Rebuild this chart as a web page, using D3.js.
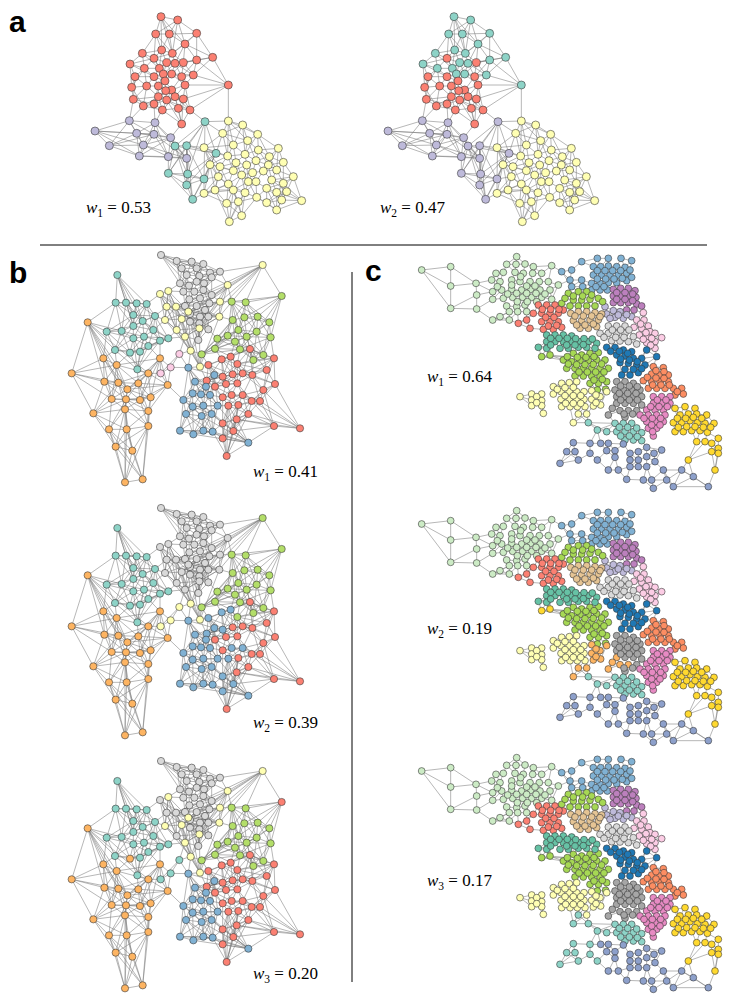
<!DOCTYPE html>
<html>
<head>
<meta charset="utf-8">
<script src="https://cdn.jsdelivr.net/npm/d3@7"></script>
<style>
  body { margin: 0; background: #fff; }
  text { font-family: "Liberation Serif", "DejaVu Serif", serif; }
  .letter { font-family: "Liberation Sans", Arial, sans-serif; font-weight: bold; font-size: 30px; }
</style>
</head>
<body>
<script>
// node layouts in reference pixels (x3), one colour code per panel
var aNodes = "483 50 RT|533 60 RT|467 102 RT|508 102 RT|590 100 RT|555 132 RT|485 150 RT|517 160 RT|427 160 RT|462 175 RR|590 180 RT|638 172 RT|390 192 RT|433 205 RT|478 205 RT|500 188 RT|525 190 RT|550 188 RR|405 230 RR|462 230 RR|490 222 RT|515 222 RT|545 230 RR|580 225 RT|440 258 RR|475 258 RR|495 243 RR|515 270 RR|555 255 RR|395 262 RR|497 272 RR|475 290 RR|500 300 RR|525 290 RR|550 297 RR|400 298 RR|430 318 RR|462 312 RR|487 330 RR|535 325 RR|570 330 RR|685 255 RT|545 372 RR|"
  + "285 393 UU|388 362 UU|465 368 UU|410 400 UU|462 403 UU|512 413 UU|328 437 UU|430 435 UU|418 468 UU|505 470 UU|560 475 UU|"
  + "615 365 TU|525 438 TU|560 437 TU|648 460 TU|505 520 TU|563 522 TU|612 537 TU|560 555 TU|578 598 TU|"
  + "685 363 YY|728 375 YY|668 400 YY|773 403 YY|700 435 YY|743 422 YY|612 443 YY|775 450 YY|835 445 YY|683 468 YY|735 463 YY|768 482 YY|808 470 YY|850 487 YY|630 494 YY|660 500 YY|708 488 YY|740 495 YY|805 495 YY|830 510 YY|880 530 YY|655 530 YY|700 512 YY|725 525 YY|758 518 YY|790 513 YY|815 540 YY|850 550 YY|685 552 YY|745 545 YY|768 545 YY|645 570 YY|700 570 YY|735 578 YY|770 592 YY|800 565 YY|830 577 YY|860 575 YY|612 580 YY|680 610 YY|715 605 YY|800 608 YY|845 600 YY|905 602 YY|830 630 YY|725 647 YY|688 665 YY"

var bNodes = "483 45 GGG|530 63 GGG|575 65 GGG|610 72 GGG|545 85 GGG|590 85 GGG|630 98 GGG|660 95 GGG|560 105 GGG|598 108 GGG|540 130 GGG|567 137 GGG|590 125 GGG|612 130 GGG|635 112 GGG|550 155 GGG|583 155 GGG|610 150 GGG|635 165 GGG|568 178 GGG|600 175 GGG|628 190 GGG|555 198 GGG|590 198 GGG|615 210 GGG|570 222 GGG|600 230 GGG|625 230 GGG|570 245 GGG|598 250 GGG|625 268 GGG|595 300 GGG|"
  + "788 75 YLY|683 135 YGY|480 162 YGG|505 153 YGY|500 200 YGG|528 200 YGG|660 185 YGY|495 240 YGY|545 237 YGY|565 215 YGY|658 230 YGY|530 270 YGG|598 265 YGY|555 290 YGY|572 332 YYY|600 380 YYY|"
  + "538 342 PYT|512 382 PYT|482 400 PYT|"
  + "845 168 LLR|695 185 LLL|737 187 LLL|698 240 LLL|733 232 LLL|773 230 LLL|808 247 LLL|715 270 LLL|683 287 LLL|740 290 LLL|770 275 LLL|812 292 LLL|652 296 LLL|705 305 LLL|645 326 LLL|605 343 LLL|790 345 LLL|760 360 LLL|720 328 LLL|"
  + "352 105 TTT|347 188 TTT|378 188 TTT|410 190 TTT|440 192 TTT|400 225 TTT|428 243 TTT|465 228 TTT|320 275 TTT|365 273 TTT|400 258 TTT|432 290 TTT|460 270 TTT|400 295 TTT|445 318 TTT|480 302 TTT|505 295 TTT|345 330 TTT|390 338 TTO|420 335 TTT|412 388 TTT|"
  + "263 247 OOO|310 355 OOO|350 375 OOO|215 400 OOO|313 425 OOO|355 428 OOO|382 448 OOO|415 430 OOO|445 400 OOO|480 355 OOO|503 435 OOO|335 477 OOO|378 478 OOO|420 480 OOO|452 472 OOO|280 520 OOO|375 508 OOO|445 513 OOO|327 568 OOO|380 568 OOO|445 558 OOO|347 620 OOO|397 632 OOO|375 727 OOO|428 718 OOO|"
  + "750 327 RRR|692 350 RBR|665 358 RBR|625 375 RBR|822 355 RRR|712 372 RLR|620 422 RBR|645 440 RRR|668 410 RBR|698 403 RRR|728 400 RRR|757 405 RRR|800 390 RRR|825 432 RRR|678 432 RRR|712 430 RRR|790 450 RRR|668 472 RRR|695 465 RBR|728 465 RBR|755 483 RRR|780 483 RRR|685 497 RBR|715 495 RRR|745 522 RRR|710 538 RRR|668 550 RBR|700 573 RBR|822 558 RRR|900 565 RRR|668 595 RBR|680 648 RRR|"
  + "565 383 BBB|643 405 BBB|585 425 BBB|618 440 BBB|578 460 BBB|603 463 BBB|630 465 BBB|550 480 BBB|578 500 BBB|610 497 BBB|653 497 BBB|558 522 BBB|605 528 BBB|635 522 BBB|540 572 BBB|580 583 BBB|610 572 BBB|638 575 BBB|745 608 BBB"

var cNodes = "185 90 aaa|272 80 aaa|272 138 aaa|272 205 aaa|348 130 aaa|350 165 aaa|350 207 aaa|398 240 aaa|470 50 aaa|440 73 aaa|468 73 aaa|495 72 aaa|520 80 aaa|575 77 aaa|408 100 aaa|430 97 aaa|465 97 aaa|490 100 aaa|518 100 aaa|545 100 aaa|395 120 aaa|420 125 aaa|455 120 aaa|480 125 aaa|510 125 aaa|538 125 aaa|565 125 aaa|595 135 aaa|398 155 aaa|425 150 aaa|455 148 aaa|485 150 aaa|512 148 aaa|540 150 aaa|570 150 aaa|398 178 aaa|430 175 aaa|458 172 aaa|488 172 aaa|515 172 aaa|545 172 aaa|575 178 aaa|440 198 aaa|470 200 aaa|495 195 aaa|420 230 aaa|448 215 aaa|473 215 aaa|500 215 aaa|448 240 aaa|"
  + "482 110 aaa|455 135 aaa|500 138 aaa|525 138 aaa|470 160 aaa|500 160 aaa|528 160 aaa|555 162 aaa|443 162 aaa|472 185 aaa|502 185 aaa|530 185 aaa|412 140 aaa|"
  + "605 95 bbb|635 90 bbb|665 65 bbb|712 55 bbb|745 55 bbb|783 55 bbb|700 80 bbb|722 80 bbb|745 78 bbb|770 80 bbb|795 82 bbb|630 120 bbb|665 120 bbb|700 105 bbb|725 105 bbb|750 105 bbb|775 105 bbb|800 100 bbb|635 140 bbb|668 140 bbb|695 130 bbb|720 130 bbb|745 128 bbb|770 128 bbb|800 122 bbb|695 150 bbb|720 150 bbb|742 150 bbb|"
  + "815 62 bbb|712 92 bbb|735 92 bbb|758 92 bbb|782 92 bbb|810 90 bbb|712 117 bbb|737 117 bbb|762 117 bbb|787 115 bbb|815 112 bbb|708 140 bbb|732 140 bbb|"
  + "760 148 ppp|782 145 ppp|805 145 ppp|825 152 ppp|760 168 ppp|782 168 ppp|805 168 ppp|828 172 ppp|760 188 ppp|782 188 ppp|805 188 ppp|830 192 ppp|800 210 ppp|822 210 ppp|845 198 ppp|"
  + "770 158 ppp|795 158 ppp|818 162 ppp|770 178 ppp|795 178 ppp|818 182 ppp|"
  + "735 200 vvv|740 222 vvv|760 212 vvv|780 215 vvv|765 232 vvv|790 235 vvv|815 230 vvv|750 235 vvv|775 225 vvv|800 224 vvv|"
  + "850 218 kkk|830 240 kkk|852 240 kkk|865 258 kkk|822 262 kkk|845 265 kkk|870 275 kkk|838 285 kkk|862 290 kkk|885 280 kkk|860 308 kkk|885 305 kkk|905 293 kkk|885 325 kkk|842 252 kkk|858 278 kkk|850 298 kkk|875 295 kkk|872 316 kkk|"
  + "625 160 ggg|655 155 ggg|680 155 ggg|640 180 ggg|665 180 ggg|690 178 ggg|715 175 ggg|605 190 ggg|630 198 ggg|655 198 ggg|680 198 ggg|705 198 ggg|728 185 ggg|615 175 ggg|640 168 ggg|668 168 ggg|695 165 ggg|"
  + "545 350 gfg|570 345 gfg|640 340 ggg|665 345 ggg|690 340 ggg|715 338 ggg|610 360 ggg|635 365 ggg|660 362 ggg|685 362 ggg|710 360 ggg|735 360 ggg|620 385 ggg|645 385 ggg|670 385 ggg|695 385 ggg|720 385 ggg|745 385 ggg|645 408 ggg|670 408 ggg|695 408 ggg|720 408 ggg|690 430 ggg|715 430 ggg|740 425 ggg|712 450 ggg|737 448 ggg|"
  + "622 350 ggg|652 352 ggg|678 352 ggg|702 350 ggg|625 372 ggg|650 374 ggg|675 374 ggg|700 373 ggg|725 372 ggg|657 396 ggg|682 396 ggg|707 396 ggg|732 396 ggg|702 420 ggg|727 418 ggg|"
  + "535 195 rrr|560 195 rrr|585 195 rrr|610 210 rrr|520 220 rrr|545 220 rrr|570 220 rrr|595 220 rrr|545 245 rrr|570 245 rrr|595 245 rrr|500 240 rrr|475 250 rrr|510 265 rrr|550 268 rrr|580 268 rrr|605 262 rrr|"
  + "547 208 rrr|572 208 rrr|597 208 rrr|557 232 rrr|582 232 rrr|565 258 rrr|590 256 rrr|"
  + "632 220 ttt|655 215 ttt|680 215 ttt|705 218 ttt|725 222 ttt|640 242 ttt|665 242 ttt|690 240 ttt|715 240 ttt|660 265 ttt|685 265 ttt|710 260 ttt|645 228 ttt|670 228 ttt|695 228 ttt|720 230 ttt|650 255 ttt|675 255 ttt|700 252 ttt|"
  + "745 258 lll|770 258 lll|795 258 lll|720 280 lll|745 280 lll|770 282 lll|795 280 lll|820 290 lll|755 302 lll|780 303 lll|805 305 lll|830 312 lll|757 270 lll|782 270 lll|807 270 lll|732 292 lll|767 292 lll|792 292 lll|"
  + "560 285 sss|585 285 sss|610 285 sss|635 288 sss|560 305 sss|585 305 sss|610 305 sss|635 305 sss|660 305 sss|685 305 sss|710 310 sss|535 322 sss|560 325 sss|600 325 sss|625 325 sss|655 322 sss|680 322 sss|705 325 sss|"
  + "572 295 sss|597 295 sss|622 295 sss|647 296 sss|672 296 sss|697 297 sss|572 315 sss|620 315 sss|645 315 sss|670 314 sss|"
  + "740 322 ddd|765 322 ddd|790 330 ddd|815 335 ddd|770 345 ddd|795 348 ddd|820 355 ddd|845 355 ddd|860 330 ddd|890 350 ddd|780 368 ddd|805 370 ddd|830 375 ddd|855 375 ddd|785 405 ddd|810 405 ddd|835 398 ddd|"
  + "752 334 ddd|778 334 ddd|803 340 ddd|782 357 ddd|808 360 ddd|832 365 ddd|795 388 ddd|820 388 ddd|845 386 ddd|"
  + "880 380 ooo|910 383 ooo|875 402 ooo|900 405 ooo|925 405 ooo|850 422 ooo|875 425 ooo|900 425 ooo|925 425 ooo|865 445 ooo|890 445 ooo|915 445 ooo|940 445 ooo|965 445 ooo|945 465 ooo|970 462 ooo|"
  + "888 392 ooo|912 395 ooo|862 412 ooo|888 414 ooo|912 415 ooo|878 435 ooo|903 435 ooo|928 435 ooo|952 455 ooo|"
  + "770 425 mmm|795 425 mmm|820 430 mmm|765 450 mmm|790 450 mmm|815 450 mmm|840 450 mmm|770 470 mmm|795 470 mmm|820 470 mmm|845 470 mmm|770 490 mhm|795 490 mmm|820 490 mmm|845 495 mmm|780 512 mhm|805 512 mhm|830 512 mmm|745 525 mhm|795 532 mmm|"
  + "782 438 mmm|808 438 mmm|832 440 mmm|778 460 mmm|803 460 mmm|828 460 mmm|782 480 mmm|808 480 mmm|832 480 mmm|757 505 mhm|792 522 mmm|818 522 mmm|"
  + "880 470 qqq|905 470 qqq|930 470 qqq|880 490 qqq|905 490 qqq|930 490 qqq|860 510 qqq|885 510 qqq|910 510 qqq|840 525 qqq|865 525 qqq|890 525 qqq|915 525 qqq|860 545 qqq|885 545 qqq|910 545 qqq|865 565 qqq|890 565 qqq|880 588 qqq|"
  + "892 480 qqq|918 480 qqq|872 500 qqq|897 500 qqq|922 500 qqq|852 535 qqq|877 535 qqq|902 535 qqq|875 555 qqq|900 555 qqq|878 575 qqq|"
  + "480 470 yyy|515 462 yyy|545 462 yyy|515 480 yyy|545 482 yyy|515 497 yyy|545 497 yyy|550 520 yyy|580 440 yyy|605 430 yyy|628 428 yyy|650 425 yyy|580 462 yyy|603 455 yyy|628 455 yyy|650 455 yyy|672 455 yyy|603 478 yyy|628 478 yyy|650 478 yyy|672 478 yyy|605 500 yyy|630 500 yyy|652 500 yyy|675 500 yyy|695 452 yhy|720 470 yhy|740 455 yhy|695 478 yhy|700 498 yhy|722 495 yhy|655 522 yhn|680 522 yhy|640 548 yhn|"
  + "592 448 yyy|615 443 yyy|640 442 yyy|615 467 yyy|640 467 yyy|662 467 yyy|617 490 yyy|640 490 yyy|662 490 yyy|530 470 yyy|530 488 yyy|708 465 yhy|708 488 yhy|"
  + "685 548 nnn|712 570 nnn|740 575 nnn|765 550 nnn|790 550 nnn|815 550 nnn|770 575 nnn|795 575 nnn|820 575 nnn|845 578 nnn|795 600 nnn|820 600 nnn|845 602 nnn|778 562 nnn|803 562 nnn|830 564 nnn|782 588 nnn|808 588 nnn|832 590 nnn|"
  + "640 608 een|620 635 een|645 635 een|600 670 een|655 660 een|690 610 een|690 640 een|712 660 een|722 610 eee|745 610 eee|740 632 eee|765 632 eee|765 652 eee|745 690 eee|775 690 eee|790 612 eee|810 640 eee|810 660 eee|810 680 eee|835 635 eee|835 660 eee|835 680 eee|860 622 eee|860 650 eee|860 680 eee|882 640 eee|885 665 eee|905 630 eee|910 690 eee|850 720 eee|880 745 eee|875 720 eee|920 720 eee|940 740 eee|1000 710 eee|1045 740 eee|965 690 eee|800 718 eee|"
  + "945 505 fff|975 500 fff|1005 505 fff|960 525 fff|985 522 fff|1010 522 fff|1040 525 fff|940 548 fff|965 548 fff|990 542 fff|1012 548 fff|1035 550 fff|1062 550 fff|945 575 fff|970 575 fff|995 572 fff|1020 572 fff|1042 577 fff|1010 605 fff|1035 605 fff|1055 610 fff|1075 595 fff|1075 625 fff|1055 635 fff|1075 640 fff|985 660 fff|1065 690 fff|"
  + "952 535 fff|977 535 fff|1000 532 fff|1025 535 fff|955 562 fff|980 560 fff|1005 560 fff|1030 562 fff|1052 562 fff"

var aWeights = ["0.53", "0.47"]
var bWeights = ["0.41", "0.39", "0.20"]
var cWeights = ["0.64", "0.19", "0.17"]

var aColors = { R: "#fb8072", U: "#bebada", T: "#8dd3c7", Y: "#ffffb3" }
var bColors = { G: "#d9d9d9", Y: "#ffffb3", P: "#fccde5", L: "#b3de69", T: "#8dd3c7", O: "#fdb462", R: "#fb8072", B: "#80b1d3" }
var cColors = { a: "#ccebc5", b: "#80b1d3", p: "#bc80bd", v: "#bebada", k: "#fccde5", g: "#a6d854", r: "#fb8072",
  t: "#e5c494", l: "#d9d9d9", s: "#66c2a5", d: "#1f78b4", o: "#fc8d62", m: "#a6a6a6", q: "#e78ac3",
  y: "#ffffb3", n: "#8dd3c7", e: "#8da0cb", f: "#ffd92f", h: "#fdb462" }

function parse(s) {
  return s.split("|").map(function (t) {
    var p = t.trim().split(/\s+/)
    return { x: +p[0], y: +p[1], g: p[2] }
  })
}

// links: nearest neighbours inside the first partition plus a few across
function knn(nodes, kSame, kAny) {
  var seen = {}, edges = []
  nodes.forEach(function (n, i) {
    var d = nodes.map(function (m, j) { return { j: j, d: (m.x - n.x) * (m.x - n.x) + (m.y - n.y) * (m.y - n.y) } })
      .filter(function (o) { return o.j !== i })
      .sort(function (a, b) { return a.d - b.d })
    var same = d.filter(function (o) { return nodes[o.j].g[0] === n.g[0] }).slice(0, kSame)
    same.concat(d.slice(0, kAny)).forEach(function (o) {
      var a = Math.min(i, o.j), b = Math.max(i, o.j)
      if (!seen[a + "-" + b]) { seen[a + "-" + b] = 1; edges.push([a, b]) }
    })
  })
  return edges
}

var svg = d3.select("body").append("svg").attr("width", 747).attr("height", 997)

function drawNet(dx, dy, nodes, edges, k, colors, r, x, y) {
  var g = svg.append("g").attr("transform", "translate(" + dx + "," + dy + ")")
  g.selectAll("line").data(edges).enter().append("line")
    .attr("x1", function (e) { return x(nodes[e[0]].x) })
    .attr("y1", function (e) { return y(nodes[e[0]].y) })
    .attr("x2", function (e) { return x(nodes[e[1]].x) })
    .attr("y2", function (e) { return y(nodes[e[1]].y) })
    .attr("stroke", "#7a7a7a").attr("stroke-width", 0.55)
  g.selectAll("circle").data(nodes).enter().append("circle")
    .attr("cx", function (d) { return x(d.x) })
    .attr("cy", function (d) { return y(d.y) })
    .attr("r", r)
    .attr("fill", function (d) { return colors[d.g[k]] })
    .attr("stroke", "#3a3a3a").attr("stroke-width", 0.6)
}

function label(px, py, i, val) {
  var t = svg.append("text").attr("x", px).attr("y", py).attr("font-size", 17)
  t.append("tspan").attr("font-style", "italic").text("w")
  t.append("tspan").attr("dy", 4).attr("font-size", 11.5).text(i)
  t.append("tspan").attr("dy", -4).text(" = " + val)
}

var x3 = d3.scaleLinear().domain([0, 1140]).range([0, 380])
var y3 = d3.scaleLinear().domain([0, 780]).range([0, 260])

// a
var an = parse(aNodes), ae = knn(an, 6, 3)
aWeights.forEach(function (w, i) {
  drawNet(293 * i, 0, an, ae, i, aColors, 4, x3, y3)
  label(86 + 294 * i, 213, i + 1, w)
})

// b
var bn = parse(bNodes), be = knn(bn, 7, 4)
bWeights.forEach(function (w, i) {
  drawNet(0, 240 + 253 * i, bn, be, i, bColors, 3.6, x3, y3)
  label(253, 477 + 251 * i, i + 1, w)
})

// c
var cn = parse(cNodes), ce = knn(cn, 3, 3)
var cShift = [0, 254, 501]
cWeights.forEach(function (w, i) {
  drawNet(360, 240 + cShift[i], cn, ce, i, cColors, 3.4, x3, y3)
  label(427, 382 + 252 * i, i + 1, w)
})

// dividers and panel letters
svg.append("line").attr("x1", 40).attr("x2", 707).attr("y1", 245).attr("y2", 245).attr("stroke", "#000").attr("stroke-width", 1)
svg.append("line").attr("x1", 352).attr("x2", 352).attr("y1", 272).attr("y2", 982).attr("stroke", "#000").attr("stroke-width", 1)
svg.append("text").attr("class", "letter").attr("x", 9).attr("y", 32).text("a")
svg.append("text").attr("class", "letter").attr("x", 9).attr("y", 283).text("b")
svg.append("text").attr("class", "letter").attr("x", 365).attr("y", 281).text("c")
</script>
</body>
</html>
